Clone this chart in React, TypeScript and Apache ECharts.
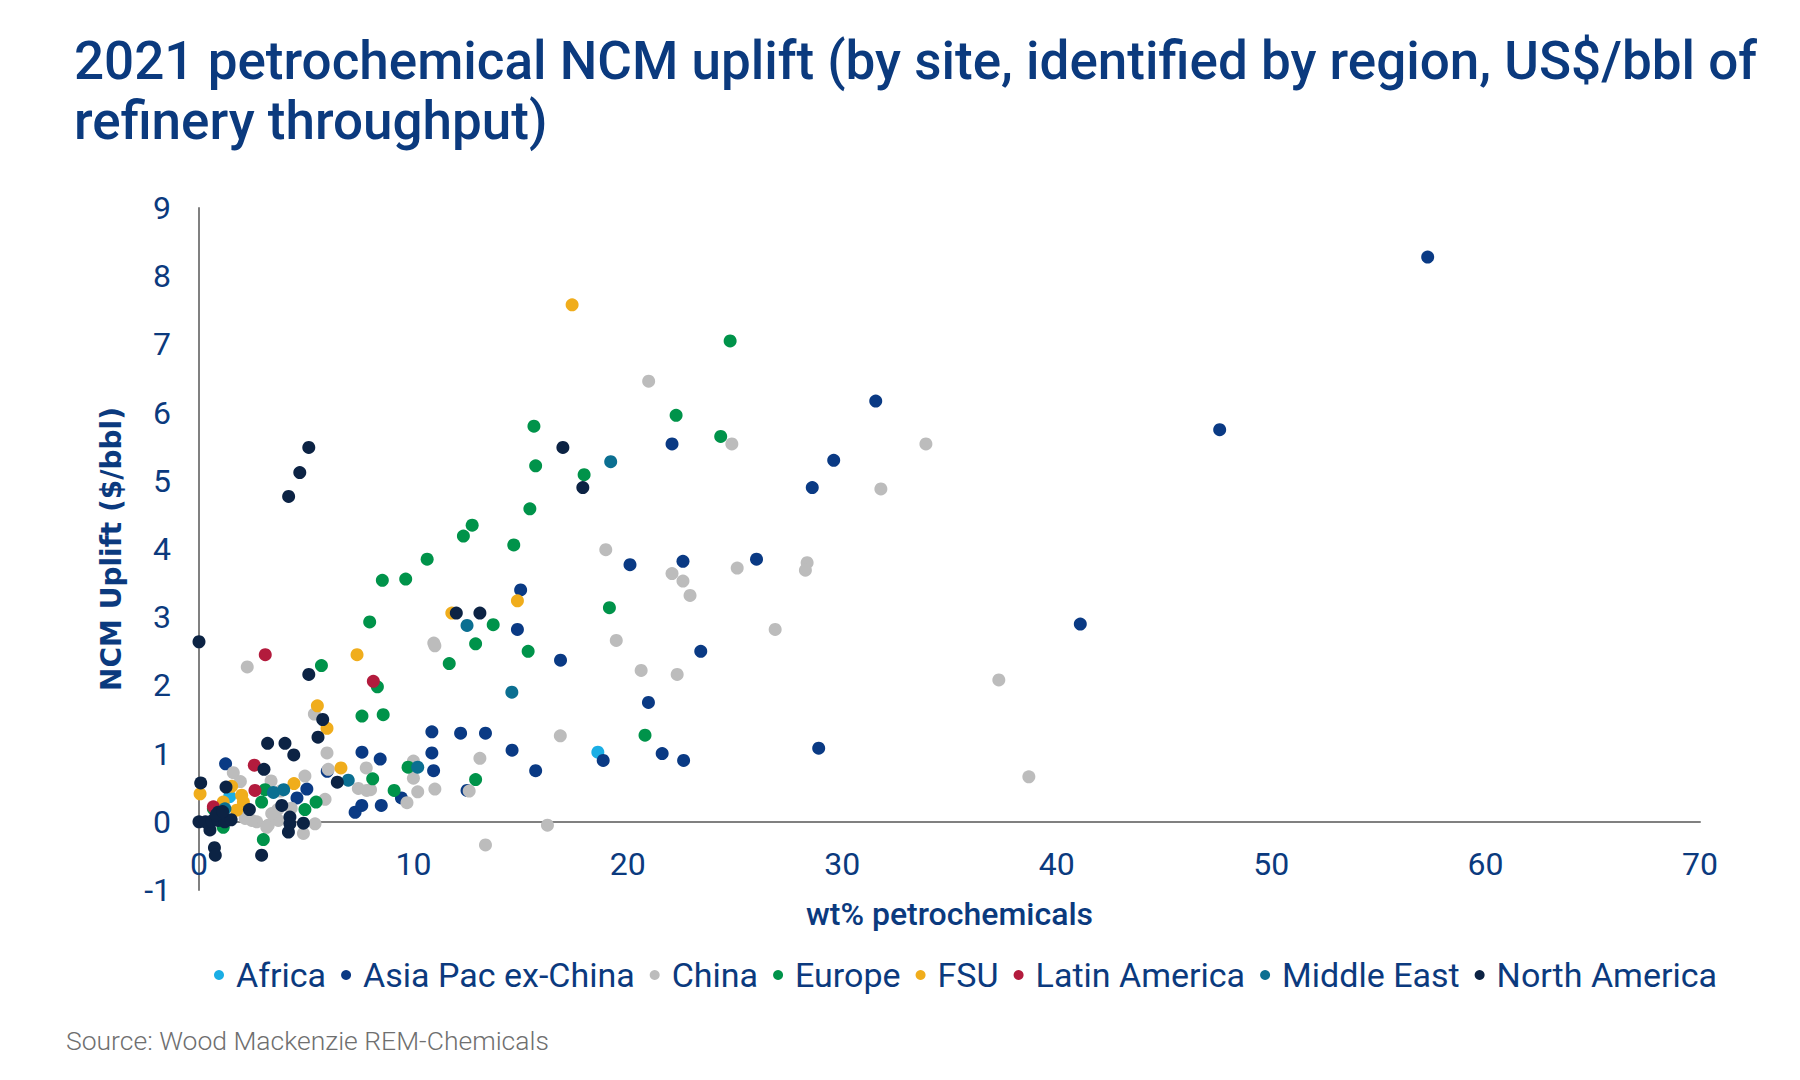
import React, { useEffect, useRef } from "react";
import * as echarts from "echarts";

const seriesNames = [
  "Africa",
  "Asia Pac ex-China",
  "China",
  "Europe",
  "FSU",
  "Latin America",
  "Middle East",
  "North America",
];

const seriesColors = [
  "#1aaee5",
  "#0a3a84",
  "#bcbcbc",
  "#00934a",
  "#f0ad1c",
  "#b31b3d",
  "#0b6f91",
  "#0c2344",
];

const africa: number[][] = [
  [18.6, 1.02], [1.43, 0.37],
];

const asiaPac: number[][] = [
  [57.3, 8.28], [47.6, 5.75], [31.56, 6.17], [29.6, 5.3], [28.6, 4.9], [22.06, 5.54],
  [26.0, 3.85], [22.57, 3.82], [20.1, 3.77], [41.1, 2.9], [23.4, 2.5], [20.96, 1.75],
  [28.9, 1.08], [21.6, 1.0], [22.6, 0.9], [18.85, 0.9], [15.7, 0.75], [15.0, 3.4],
  [14.85, 2.82], [16.86, 2.37], [14.6, 1.05], [13.36, 1.3], [12.2, 1.3], [10.86, 1.32],
  [10.86, 1.01], [10.94, 0.75], [8.45, 0.92], [7.6, 1.02], [9.44, 0.35], [8.5, 0.24],
  [12.5, 0.46], [7.28, 0.14], [7.59, 0.24], [5.98, 0.74], [5.03, 0.48], [4.57, 0.35],
  [1.24, 0.85],
];

const china: number[][] = [
  [20.97, 6.46], [24.85, 5.54], [33.9, 5.54], [31.8, 4.88], [18.97, 3.99], [22.06, 3.64],
  [22.57, 3.53], [22.9, 3.32], [25.1, 3.72], [28.36, 3.8], [28.28, 3.69], [19.46, 2.66],
  [26.87, 2.82], [20.62, 2.22], [22.3, 2.16], [37.3, 2.08], [38.7, 0.66], [16.85, 1.26],
  [13.1, 0.93], [10.0, 0.89], [10.0, 0.64], [10.2, 0.44], [11.0, 0.48], [12.6, 0.45],
  [9.7, 0.28], [8.0, 0.47], [16.25, -0.05], [13.36, -0.34], [10.95, 2.62], [11.0, 2.58],
  [5.38, 1.58], [5.97, 1.01], [1.6, 0.72], [1.93, 0.59], [3.36, 0.6], [4.94, 0.67],
  [5.88, 0.33], [3.67, 0.18], [2.15, 0.05], [2.69, 0.0], [3.23, -0.05], [3.7, 0.02],
  [3.39, 0.12], [5.41, -0.03], [4.87, -0.17], [6.03, 0.77], [7.8, 0.79], [7.43, 0.49],
  [7.82, 0.46], [2.25, 2.27], [4.3, 0.2], [3.8, 0.45], [2.46, 0.02], [3.16, -0.08],
];

const europe: number[][] = [
  [24.77, 7.05], [22.25, 5.96], [24.33, 5.65], [15.62, 5.8], [15.7, 5.22], [17.96, 5.09],
  [15.43, 4.59], [12.74, 4.35], [12.33, 4.19], [14.68, 4.06], [10.64, 3.85], [8.55, 3.54],
  [9.64, 3.56], [13.72, 2.89], [12.9, 2.61], [15.35, 2.5], [11.67, 2.32], [7.96, 2.93],
  [5.71, 2.29], [8.32, 1.98], [8.59, 1.57], [7.6, 1.55], [19.14, 3.14], [20.8, 1.27],
  [9.75, 0.8], [8.1, 0.63], [12.9, 0.62], [9.1, 0.46], [3.08, 0.47], [2.92, 0.29],
  [5.46, 0.29], [4.94, 0.18], [0.67, 0.19], [1.13, -0.08], [3.0, -0.26],
];

const fsu: number[][] = [
  [17.4, 7.58], [14.85, 3.24], [11.79, 3.06], [7.37, 2.45], [5.52, 1.7], [5.97, 1.37],
  [6.62, 0.79], [4.43, 0.56], [1.99, 0.39], [2.07, 0.29], [1.13, 0.29], [1.76, 0.17],
  [0.05, 0.41], [1.52, 0.52],
];

const latinAmerica: number[][] = [
  [3.09, 2.45], [8.13, 2.06], [2.58, 0.83], [2.61, 0.46], [0.67, 0.22],
];

const middleEast: number[][] = [
  [12.5, 2.88], [14.59, 1.9], [19.2, 5.28], [10.2, 0.8], [3.47, 0.43], [3.95, 0.47],
  [1.21, 0.19], [6.96, 0.61],
];

const northAmerica: number[][] = [
  [16.97, 5.49], [17.9, 4.9], [5.12, 5.49], [4.7, 5.12], [4.18, 4.77], [12.0, 3.06],
  [13.1, 3.06], [0.0, 2.64], [5.12, 2.16], [5.77, 1.5], [5.55, 1.24], [3.2, 1.15],
  [4.01, 1.15], [4.42, 0.98], [3.03, 0.77], [0.08, 0.57], [1.26, 0.51], [3.86, 0.24],
  [2.35, 0.18], [0.9, 0.14], [6.45, 0.58], [4.24, 0.07], [4.87, -0.02], [4.24, -0.03],
  [4.17, -0.15], [0.51, -0.12], [0.72, -0.38], [0.76, -0.49], [2.92, -0.49],
  [0.0, 0.0], [0.3, 0.0], [0.6, 0.01], [0.9, 0.02], [1.2, 0.0], [1.5, 0.03],
  [0.8, 0.1], [1.1, 0.15],
];

const seriesData = [africa, asiaPac, china, europe, fsu, latinAmerica, middleEast, northAmerica];

const xTicks = { min: 0, max: 70, interval: 10 };
const yTicks = { min: -1, max: 9, interval: 1 };

const titleText =
  "2021 petrochemical NCM uplift (by site, identified by region, US$/bbl of\nrefinery throughput)";
const xName = "wt% petrochemicals";
const yName = "NCM Uplift ($/bbl)";
const sourceText = "Source: Wood Mackenzie REM-Chemicals";

const textBlue = "#0b3a7e";

export default function App() {
  const ref = useRef<HTMLDivElement>(null);
  useEffect(() => {
    if (!ref.current) return;
    const chart = echarts.init(ref.current, undefined, { renderer: "svg" });
    chart.setOption({
      animation: false,
      title: {
        text: titleText,
        left: 69,
        top: 26,
        textStyle: {
          fontFamily: "Roboto",
          fontWeight: 500,
          fontSize: 53,
          lineHeight: 60,
          color: textBlue,
        },
      },
      legend: {
        data: seriesNames,
        left: 209,
        top: 953,
        icon: "circle",
        itemWidth: 10,
        itemHeight: 10,
        itemGap: 15,
        textStyle: {
          fontFamily: "Roboto",
          fontSize: 34,
          color: textBlue,
          padding: [0, 0, 0, 7],
        },
      },
      grid: { left: 199, right: 100, top: 208, bottom: 190 },
      xAxis: {
        type: "value",
        min: xTicks.min,
        max: xTicks.max,
        interval: xTicks.interval,
        name: xName,
        nameLocation: "middle",
        nameGap: 8,
        nameTextStyle: { fontFamily: "Roboto", fontWeight: 500, fontSize: 32, color: textBlue },
        axisLine: { onZero: true, lineStyle: { color: "#808080", width: 2 } },
        axisTick: { show: false },
        splitLine: { show: false },
        axisLabel: { fontFamily: "Roboto", fontSize: 32, color: textBlue, margin: -42 },
      },
      yAxis: {
        type: "value",
        min: yTicks.min,
        max: yTicks.max,
        interval: yTicks.interval,
        name: yName,
        nameLocation: "middle",
        nameGap: 74,
        nameTextStyle: {
          fontFamily: "DejaVu Sans",
          fontWeight: "bold",
          fontSize: 28,
          color: textBlue,
        },
        axisLine: { show: true, onZero: false, lineStyle: { color: "#808080", width: 2 } },
        axisTick: { show: false },
        splitLine: { show: false },
        axisLabel: { fontFamily: "Roboto", fontSize: 32, color: textBlue, margin: 28 },
      },
      graphic: [
        {
          type: "text",
          left: 66,
          top: 1027,
          style: {
            text: sourceText,
            fontFamily: "Roboto",
            fontWeight: 300,
            fontSize: 26.5,
            fill: "#6f6f6f",
          },
        },
      ],
      series: seriesNames.map((name, i) => ({
        name,
        type: "scatter",
        data: seriesData[i],
        symbol: "circle",
        symbolSize: 13,
        itemStyle: { color: seriesColors[i], opacity: 1 },
        emphasis: { disabled: true },
      })),
    });
    return () => chart.dispose();
  }, []);
  return (
    <div
      ref={ref}
      style={{ position: "fixed", left: 0, top: 0, width: 1800, height: 1080, background: "#fff" }}
    />
  );
}
